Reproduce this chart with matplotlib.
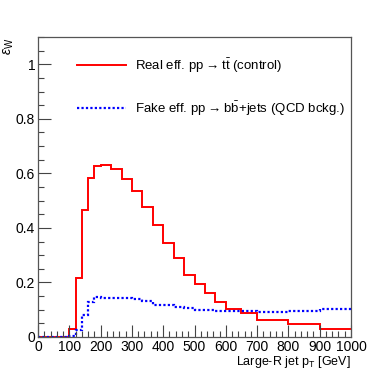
import numpy as np
import matplotlib
matplotlib.use("Agg")
import matplotlib.pyplot as plt
from matplotlib.ticker import MultipleLocator, FuncFormatter

# bin edges in GeV
edges = [0, 100, 120, 140, 160, 180, 200, 233, 267, 300, 333, 367, 400,
         433, 467, 500, 533, 567, 600, 650, 700, 800, 900, 1000]

# real efficiency, pp -> ttbar (control)
real_eff = [0.0, 0.03, 0.215, 0.466, 0.583, 0.626, 0.629, 0.615, 0.580,
            0.534, 0.475, 0.411, 0.346, 0.288, 0.227, 0.193, 0.160, 0.129,
            0.104, 0.088, 0.062, 0.047, 0.031]

# fake efficiency, pp -> bbbar+jets (QCD)
fake_eff = [0.0, 0.004, 0.027, 0.080, 0.127, 0.146, 0.142, 0.144, 0.143,
            0.138, 0.131, 0.119, 0.117, 0.110, 0.106, 0.100, 0.098, 0.095,
            0.097, 0.095, 0.093, 0.094, 0.102]

plt.rcParams['font.family'] = ['Liberation Sans', 'DejaVu Sans']
plt.rcParams['mathtext.fontset'] = 'custom'
plt.rcParams['mathtext.rm'] = 'Liberation Sans'
plt.rcParams['mathtext.it'] = 'Liberation Sans:italic'
plt.rcParams['mathtext.sf'] = 'Liberation Sans'

fig = plt.figure(figsize=(3.9, 3.75), dpi=100)
ax = fig.add_axes([38 / 390, 1 - 337 / 375, 313 / 390, 300 / 375])

ax.stairs(real_eff, edges, color='#ff0000', lw=1.4, baseline=None)
ax.stairs(fake_eff, edges, color='#0000ff', lw=1.6, ls=(0, (1, 1)), baseline=None)

ax.set_xlim(0, 1000)
ax.set_ylim(0, 1.1)

ax.xaxis.set_major_locator(MultipleLocator(100))
ax.xaxis.set_minor_locator(MultipleLocator(20))
ax.yaxis.set_major_locator(MultipleLocator(0.2))
ax.yaxis.set_minor_locator(MultipleLocator(0.05))
ax.yaxis.set_major_formatter(FuncFormatter(lambda v, p: f"{v:g}"))

ax.tick_params(which='both', direction='in', top=False, right=False,
               colors='#444444', labelcolor='black', labelsize=10)
ax.tick_params(which='major', length=9, width=0.8)
ax.tick_params(which='minor', length=4.5, width=0.8)
ax.tick_params(axis='x', pad=2)
ax.tick_params(axis='y', pad=2)
for s in ax.spines.values():
    s.set_color('#555555')
    s.set_linewidth(0.9)

fig.text(351 / 390, 1 - 362 / 375, r'Large-R jet p$_\mathregular{T}$ [GeV]',
         ha='right', va='center', fontsize=9)
fig.text(9 / 390, 1 - 38 / 375, r'$\epsilon_\mathregular{W}$', rotation=90,
         ha='center', va='top', fontsize=10)

# legend drawn by hand, like the ROOT TLegend
ax.plot([0.125, 0.28], [0.905, 0.905], transform=ax.transAxes, color='#ff0000', lw=1.4)
ax.plot([0.125, 0.28], [0.762, 0.762], transform=ax.transAxes, color='#0000ff',
        lw=1.6, ls=(0, (1, 1)))
ax.text(0.31, 0.905, 'Real eff. pp\u2009→\u2009t' + r'$\mathregular{\bar{t}}$ (control)',
        transform=ax.transAxes, va='center', fontsize=9.5)
ax.text(0.31, 0.762, 'Fake eff. pp\u2009→\u2009b' + r'$\mathregular{\bar{b}}$+jets (QCD bckg.)',
        transform=ax.transAxes, va='center', fontsize=9.5)

fig.savefig('out.png', dpi=100)
